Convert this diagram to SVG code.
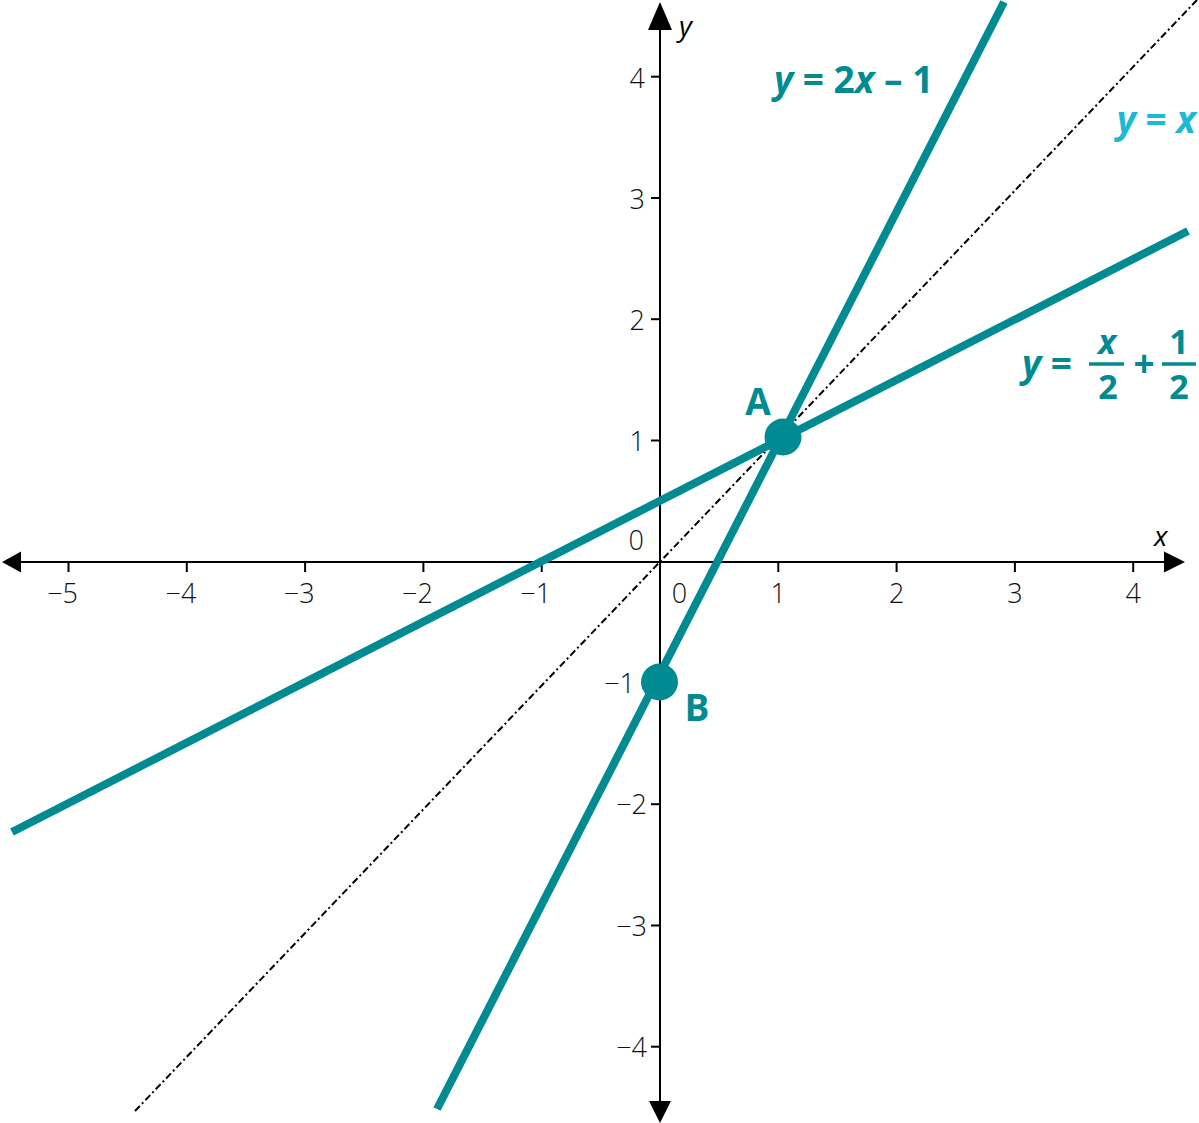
<svg xmlns="http://www.w3.org/2000/svg" width="1199" height="1123" viewBox="0 0 1199 1123">
<style>
.axis{stroke:#000;stroke-width:2;fill:none}
.tick{stroke:#000;stroke-width:2}
.head{fill:#000}
.num{font-family:"Open Sans","Liberation Sans",sans-serif;font-weight:300;font-size:27px;fill:#111}
.var{font-family:"Open Sans","Liberation Sans",sans-serif;font-style:italic;font-size:28px;fill:#000}
.teal{stroke:#008a91;stroke-width:8;fill:none;stroke-linecap:butt}
.dot{fill:#008a91}
.lbl{font-family:"Open Sans","Liberation Sans",sans-serif;font-weight:700;font-size:37px;fill:#008a91}
.fr{font-size:34px}
.cyan{fill:#1cb8d4}
.it{font-style:italic}
.frac{stroke:#008a91;stroke-width:3.5}
.dd{stroke:#000;stroke-width:2;stroke-dasharray:7 3 2 3;fill:none}
</style>
<g id="axes">
<line class="axis" x1="21" y1="562" x2="1164" y2="562"/>
<line class="axis" x1="660" y1="30" x2="660" y2="1101"/>
<polygon class="head" points="2,562 21,551.5 21,572.5"/>
<polygon class="head" points="1185,562 1164,551.5 1164,572.5"/>
<polygon class="head" points="660,2 648,30 672,30"/>
<polygon class="head" points="660,1123 649,1101 671,1101"/>
<g id="xticks">
<line class="tick" x1="68.5" y1="562" x2="68.5" y2="572"/>
<line class="tick" x1="186.8" y1="562" x2="186.8" y2="572"/>
<line class="tick" x1="305.1" y1="562" x2="305.1" y2="572"/>
<line class="tick" x1="423.4" y1="562" x2="423.4" y2="572"/>
<line class="tick" x1="541.7" y1="562" x2="541.7" y2="572"/>
<line class="tick" x1="778.3" y1="562" x2="778.3" y2="572"/>
<line class="tick" x1="896.6" y1="562" x2="896.6" y2="572"/>
<line class="tick" x1="1014.9" y1="562" x2="1014.9" y2="572"/>
<line class="tick" x1="1133.2" y1="562" x2="1133.2" y2="572"/>
</g>
<g id="yticks">
<line class="tick" x1="651" y1="76.7" x2="660" y2="76.7"/>
<line class="tick" x1="651" y1="198" x2="660" y2="198"/>
<line class="tick" x1="651" y1="319.2" x2="660" y2="319.2"/>
<line class="tick" x1="651" y1="440.5" x2="660" y2="440.5"/>
<line class="tick" x1="651" y1="683" x2="660" y2="683"/>
<line class="tick" x1="651" y1="804.2" x2="660" y2="804.2"/>
<line class="tick" x1="651" y1="925.5" x2="660" y2="925.5"/>
<line class="tick" x1="651" y1="1046.7" x2="660" y2="1046.7"/>
</g>
<g id="xlabels">
<text class="num" x="78" y="603" text-anchor="end">−5</text>
<text class="num" x="196.3" y="603" text-anchor="end">−4</text>
<text class="num" x="314.6" y="603" text-anchor="end">−3</text>
<text class="num" x="432.9" y="603" text-anchor="end">−2</text>
<text class="num" x="551.2" y="603" text-anchor="end">−1</text>
<text class="num" x="679.5" y="603" text-anchor="middle">0</text>
<text class="num" x="778.3" y="603" text-anchor="middle">1</text>
<text class="num" x="896.6" y="603" text-anchor="middle">2</text>
<text class="num" x="1014.9" y="603" text-anchor="middle">3</text>
<text class="num" x="1133.2" y="603" text-anchor="middle">4</text>
</g>
<g id="ylabels">
<text class="num" x="645" y="87.5" text-anchor="end">4</text>
<text class="num" x="645" y="208.5" text-anchor="end">3</text>
<text class="num" x="645" y="329.5" text-anchor="end">2</text>
<text class="num" x="645" y="450.5" text-anchor="end">1</text>
<text class="num" x="644" y="550" text-anchor="end">0</text>
<text class="num" x="635" y="693" text-anchor="end">−1</text>
<text class="num" x="647" y="814" text-anchor="end">−2</text>
<text class="num" x="647" y="935.5" text-anchor="end">−3</text>
<text class="num" x="647" y="1057" text-anchor="end">−4</text>
</g>
<text class="var" x="679" y="36">y</text>
<text class="var" x="1154" y="546">x</text>
</g>
<g id="connectors">
<line class="dd" x1="135" y1="1111" x2="1197" y2="0"/>
<line class="teal" x1="12" y1="832" x2="1188" y2="231"/>
<line class="teal" x1="437" y1="1109" x2="1004" y2="2"/>
</g>
<g id="pointA">
<circle class="dot" cx="783" cy="437" r="18.5"/>
<text class="lbl" x="758" y="415" text-anchor="middle" font-size="34">A</text>
</g>
<g id="pointB">
<circle class="dot" cx="659.5" cy="682" r="18.5"/>
<text class="lbl" x="697" y="721" text-anchor="middle" font-size="34">B</text>
</g>
<g id="label-line1">
<text class="lbl" x="774" y="93"><tspan class="it">y</tspan> = 2<tspan class="it">x</tspan> – 1</text>
</g>
<g id="label-yx">
<text class="lbl cyan" x="1196" y="133" text-anchor="end"><tspan class="it">y</tspan> = <tspan class="it">x</tspan></text>
</g>
<g id="label-line2">
<text class="lbl" x="1022" y="377"><tspan class="it">y</tspan> =</text>
<text class="lbl fr it" x="1107" y="354" text-anchor="middle">x</text>
<line class="frac" x1="1089" y1="364" x2="1124" y2="364"/>
<text class="lbl fr" x="1108" y="399" text-anchor="middle">2</text>
<text class="lbl" x="1144" y="377" text-anchor="middle">+</text>
<text class="lbl fr" x="1179" y="354" text-anchor="middle">1</text>
<line class="frac" x1="1162" y1="364" x2="1196" y2="364"/>
<text class="lbl fr" x="1179" y="399" text-anchor="middle">2</text>
</g>
</svg>
